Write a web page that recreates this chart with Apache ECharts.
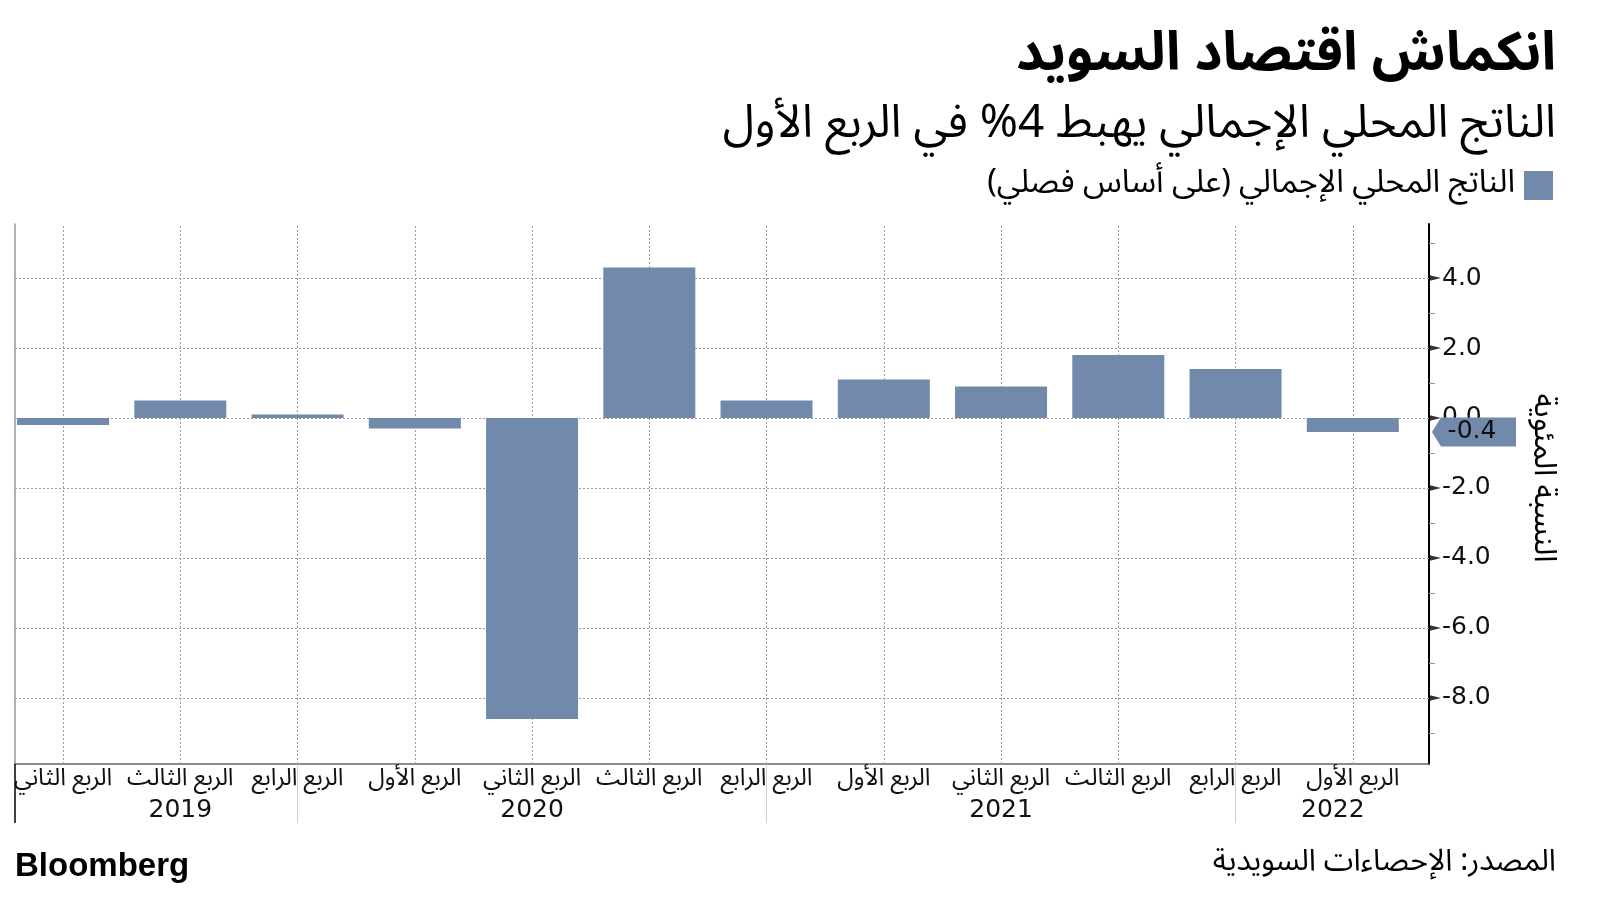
<!DOCTYPE html>
<html><head><meta charset="utf-8">
<script src="https://cdn.jsdelivr.net/npm/echarts@6/dist/echarts.min.js"></script>
<style>html,body{margin:0;padding:0;background:#fff}#c{width:1600px;height:900px}</style>
</head><body><div id="c"></div>
<script>
// ---- data ----
const quarters = ['الربع الثاني','الربع الثالث','الربع الرابع','الربع الأول','الربع الثاني','الربع الثالث','الربع الرابع','الربع الأول','الربع الثاني','الربع الثالث','الربع الرابع','الربع الأول'];
const gdpQoQ = [-0.2, 0.5, 0.1, -0.3, -8.6, 4.3, 0.5, 1.1, 0.9, 1.8, 1.4, -0.4];
const years = ['2019', '2020', '2021', '2022'];
const yearLabelAt = [1, 4, 8, 10.83];
const yearBreaksAt = [2, 6, 10];
const yMajorTicks = [-8, -6, -4, -2, 0, 2, 4];
const yMinorTicks = [-9, -7, -5, -3, -1, 1, 3, 5];
const lastValue = gdpQoQ[gdpQoQ.length - 1];

const AR = "'Noto Sans Arabic','DejaVu Sans',sans-serif";
const NUM = "'DejaVu Sans',sans-serif";
const BAR = '#7189aa';
const X_MIN = -0.41, X_MAX = 11.65;
const Y_MIN = -9.886, Y_MAX = 5.543;
const idx = quarters.map((_, i) => i);

const chart = echarts.init(document.getElementById('c'), null, {renderer: 'canvas'});
chart.setOption({
  animation: false,
  backgroundColor: '#fff',
  grid: {left: 15, right: 171, top: 224, bottom: 136, containLabel: false},
  xAxis: [
    {type: 'value', min: X_MIN, max: X_MAX, position: 'bottom',
     axisLine: {show: true, onZero: false, lineStyle: {color: '#666', width: 1.5}},
     axisTick: {show: false}, splitLine: {show: false},
     axisLabel: {customValues: idx, formatter: v => quarters[Math.round(v)], fontFamily: AR, fontSize: 24, color: '#111', margin: 5}},
    {type: 'value', min: X_MIN, max: X_MAX, position: 'bottom',
     axisLine: {show: false, onZero: false},
     axisTick: {show: true, customValues: yearBreaksAt, length: 59, lineStyle: {color: '#d0d0d0', width: 1}},
     splitLine: {show: false},
     axisLabel: {customValues: yearLabelAt, formatter: v => years[yearLabelAt.indexOf(v)], fontFamily: NUM, fontSize: 25, color: '#111', margin: 34}},
    {type: 'value', min: X_MIN, max: X_MAX, position: 'bottom',
     axisLine: {show: false, onZero: false},
     axisTick: {show: true, customValues: [X_MIN], length: 59, lineStyle: {color: '#000', width: 1.5}},
     splitLine: {show: false}, axisLabel: {show: false}}
  ],
  yAxis: [
    {type: 'value', position: 'right', min: Y_MIN, max: Y_MAX,
     axisLine: {show: true, onZero: false, lineStyle: {color: '#000', width: 2}},
     axisTick: {show: true, customValues: yMinorTicks, length: 6, lineStyle: {color: '#999', width: 1}},
     axisLabel: {customValues: yMajorTicks, formatter: v => v.toFixed(1), fontFamily: NUM, fontSize: 25, color: '#111', margin: 13},
     splitLine: {show: false}},
    {type: 'value', position: 'left', min: Y_MIN, max: Y_MAX,
     axisLine: {show: true, onZero: false, lineStyle: {color: '#999', width: 1.5}},
     axisTick: {show: false}, axisLabel: {show: false}, splitLine: {show: false}}
  ],
  series: [
    {type: 'bar', name: 'الناتج المحلي الإجمالي (على أساس فصلي)', xAxisIndex: 0, yAxisIndex: 0,
     data: gdpQoQ.map((v, i) => [i, v]), barWidth: 92, itemStyle: {color: BAR}, z: 3, silent: true,
     markLine: {silent: true, symbol: 'none', z: 1, animation: false,
       label: {show: false},
       lineStyle: {type: [2, 2], color: '#9a9a9a', width: 1},
       data: idx.map(i => ({xAxis: i})).concat(yMajorTicks.map(v => ({yAxis: v})))}},
    {type: 'scatter', xAxisIndex: 0, yAxisIndex: 0, silent: true, clip: false, z: 4,
     data: yMajorTicks.map(v => [X_MAX, v]), symbol: 'triangle', symbolRotate: -90,
     symbolSize: [6, 12], symbolOffset: [6, 0], itemStyle: {color: '#000'}},
    {type: 'custom', xAxisIndex: 0, yAxisIndex: 0, silent: true, z: 5,
     data: [[X_MAX, lastValue]],
     renderItem: (params, api) => {
       const p = api.coord([api.value(0), api.value(1)]);
       const x0 = p[0] + 3, y = p[1], h = 14.5;
       return {type: 'group', children: [
         {type: 'polygon', shape: {points: [[x0, y], [x0 + 9, y - h], [x0 + 84, y - h], [x0 + 84, y + h], [x0 + 9, y + h]]}, style: {fill: BAR}},
         {type: 'text', style: {text: api.value(1).toFixed(1), x: x0 + 40, y: y, align: 'center', verticalAlign: 'middle', font: '25px ' + NUM, fill: '#111'}}
       ]};
     }}
  ],
  graphic: [
    {type: 'text', x: 1556, y: 62, style: {text: 'انكماش اقتصاد السويد', align: 'right', verticalAlign: 'middle', font: 'bold 54px ' + AR, fill: '#000'}},
    {type: 'text', x: 1556, y: 130, style: {text: 'الناتج المحلي الإجمالي يهبط 4% في الربع الأول', align: 'right', verticalAlign: 'middle', font: '46px ' + AR, fill: '#000'}},
    {type: 'rect', shape: {x: 1524, y: 171, width: 29, height: 29}, style: {fill: BAR}},
    {type: 'text', x: 1515, y: 187, style: {text: 'الناتج المحلي الإجمالي (على أساس فصلي)', align: 'right', verticalAlign: 'middle', font: '32px ' + AR, fill: '#000'}},
    {type: 'text', x: 1540, y: 478, rotation: -Math.PI / 2, style: {text: 'النسبة المئوية', align: 'center', verticalAlign: 'middle', font: '31px ' + AR, fill: '#000'}},
    {type: 'text', x: 15, y: 867, style: {text: 'Bloomberg', align: 'left', verticalAlign: 'middle', font: 'bold 33px "Liberation Sans",Arial,sans-serif', fill: '#000'}},
    {type: 'text', x: 1556, y: 865, style: {text: 'المصدر: الإحصاءات السويدية', align: 'right', verticalAlign: 'middle', font: '30px ' + AR, fill: '#000'}}
  ]
});
</script></body></html>
